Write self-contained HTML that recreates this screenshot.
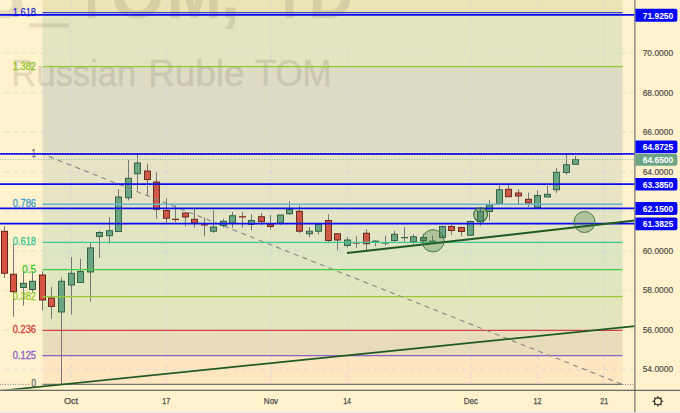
<!DOCTYPE html>
<html><head><meta charset="utf-8"><title>USDRUB_TOM, 1D</title>
<style>html,body{margin:0;padding:0;background:#fff2cc;}body{width:680px;height:413px;overflow:hidden;font-family:"Liberation Sans",sans-serif;}svg{display:block;}text{font-family:"Liberation Sans",sans-serif;}</style>
</head><body>
<svg width="680" height="413" viewBox="0 0 680 413">
<rect x="0" y="0" width="680" height="413" fill="#fff2cc"/>
<defs><clipPath id="pane"><rect x="0" y="0" width="634.4" height="389.5"/></clipPath></defs>
<g clip-path="url(#pane)">
<rect x="42.5" y="-5.00" width="580.0" height="17.50" fill="#ebe5b6"/>
<rect x="42.5" y="12.50" width="580.0" height="54.10" fill="#e2e5bf"/>
<rect x="42.5" y="66.60" width="580.0" height="87.60" fill="#dfdcc6"/>
<rect x="42.5" y="154.20" width="580.0" height="50.00" fill="#e8e3c4"/>
<rect x="42.5" y="204.20" width="580.0" height="38.25" fill="#e2e4c3"/>
<rect x="42.5" y="242.45" width="580.0" height="27.05" fill="#dee5c3"/>
<rect x="42.5" y="269.50" width="580.0" height="27.10" fill="#dfe6c0"/>
<rect x="42.5" y="296.60" width="580.0" height="33.70" fill="#e3e6bd"/>
<rect x="42.5" y="330.30" width="580.0" height="25.30" fill="#e8dcbb"/>
<rect x="42.5" y="355.60" width="580.0" height="28.80" fill="#fde6c0"/>
<line x1="0" x2="634.9" y1="53.20" y2="53.20" stroke="#c9d3e6" stroke-opacity="0.62" stroke-width="0.95" stroke-dasharray="4.6 4.2" stroke-dashoffset="-4.6"/>
<line x1="0" x2="634.9" y1="92.73" y2="92.73" stroke="#c9d3e6" stroke-opacity="0.62" stroke-width="0.95" stroke-dasharray="4.6 4.2" stroke-dashoffset="-4.6"/>
<line x1="0" x2="634.9" y1="132.26" y2="132.26" stroke="#c9d3e6" stroke-opacity="0.62" stroke-width="0.95" stroke-dasharray="4.6 4.2" stroke-dashoffset="-4.6"/>
<line x1="0" x2="634.9" y1="171.80" y2="171.80" stroke="#c9d3e6" stroke-opacity="0.62" stroke-width="0.95" stroke-dasharray="4.6 4.2" stroke-dashoffset="-4.6"/>
<line x1="0" x2="634.9" y1="211.33" y2="211.33" stroke="#c9d3e6" stroke-opacity="0.62" stroke-width="0.95" stroke-dasharray="4.6 4.2" stroke-dashoffset="-4.6"/>
<line x1="0" x2="634.9" y1="250.86" y2="250.86" stroke="#c9d3e6" stroke-opacity="0.62" stroke-width="0.95" stroke-dasharray="4.6 4.2" stroke-dashoffset="-4.6"/>
<line x1="0" x2="634.9" y1="290.39" y2="290.39" stroke="#c9d3e6" stroke-opacity="0.62" stroke-width="0.95" stroke-dasharray="4.6 4.2" stroke-dashoffset="-4.6"/>
<line x1="0" x2="634.9" y1="329.92" y2="329.92" stroke="#c9d3e6" stroke-opacity="0.62" stroke-width="0.95" stroke-dasharray="4.6 4.2" stroke-dashoffset="-4.6"/>
<line x1="0" x2="634.9" y1="369.46" y2="369.46" stroke="#c9d3e6" stroke-opacity="0.62" stroke-width="0.95" stroke-dasharray="4.6 4.2" stroke-dashoffset="-4.6"/>
<line x1="71.24" x2="71.24" y1="0" y2="390.0" stroke="#c9d3e6" stroke-opacity="0.62" stroke-width="0.95" stroke-dasharray="4.6 4.2" stroke-dashoffset="-3"/>
<line x1="166.44" x2="166.44" y1="0" y2="390.0" stroke="#c9d3e6" stroke-opacity="0.62" stroke-width="0.95" stroke-dasharray="4.6 4.2" stroke-dashoffset="-3"/>
<line x1="271.16" x2="271.16" y1="0" y2="390.0" stroke="#c9d3e6" stroke-opacity="0.62" stroke-width="0.95" stroke-dasharray="4.6 4.2" stroke-dashoffset="-3"/>
<line x1="347.32" x2="347.32" y1="0" y2="390.0" stroke="#c9d3e6" stroke-opacity="0.62" stroke-width="0.95" stroke-dasharray="4.6 4.2" stroke-dashoffset="-3"/>
<line x1="471.08" x2="471.08" y1="0" y2="390.0" stroke="#c9d3e6" stroke-opacity="0.62" stroke-width="0.95" stroke-dasharray="4.6 4.2" stroke-dashoffset="-3"/>
<line x1="537.72" x2="537.72" y1="0" y2="390.0" stroke="#c9d3e6" stroke-opacity="0.62" stroke-width="0.95" stroke-dasharray="4.6 4.2" stroke-dashoffset="-3"/>
<line x1="603.70" x2="603.70" y1="0" y2="390.0" stroke="#c9d3e6" stroke-opacity="0.62" stroke-width="0.95" stroke-dasharray="4.6 4.2" stroke-dashoffset="-3"/>
<g opacity="0.15" fill="#5f5a50" font-size="70" font-weight="bold">
<rect x="29.3" y="23.3" width="39.7" height="4"/>
<text x="-23.5" y="18.0" textLength="49.0" lengthAdjust="spacingAndGlyphs">B</text>
<rect x="87.9" y="-5" width="7.4" height="23.2"/>
<text x="110.6" y="18.0" textLength="54.0" lengthAdjust="spacingAndGlyphs">O</text>
<text x="166.5" y="18.0" textLength="55.5" lengthAdjust="spacingAndGlyphs">M</text>
<text x="220.4" y="18.0" textLength="19.6" lengthAdjust="spacingAndGlyphs">,</text>
<rect x="285.3" y="-5" width="8.2" height="23"/>
<text x="308.4" y="18.0" textLength="45.2" lengthAdjust="spacingAndGlyphs">D</text>
</g>
<g opacity="0.165" fill="#5f5a50" stroke="#5f5a50" stroke-width="0.45" stroke-linejoin="round" font-size="36">
<text x="11.3" y="85.7" textLength="125.0" lengthAdjust="spacingAndGlyphs">Russian</text>
<text x="148.2" y="85.7" textLength="96.4" lengthAdjust="spacingAndGlyphs">Ruble</text>
<text x="254.9" y="85.7" textLength="76.5" lengthAdjust="spacingAndGlyphs">TOM</text>
</g>
<line x1="4.50" x2="4.50" y1="226.25" y2="278.00" stroke="#777779" stroke-width="1"/>
<rect x="1.50" y="231.25" width="6" height="42.00" fill="#d75442" stroke="#5b1a13" stroke-width="0.9"/>
<line x1="13.50" x2="13.50" y1="243.75" y2="316.75" stroke="#777779" stroke-width="1"/>
<rect x="10.50" y="274.25" width="6" height="17.50" fill="#d75442" stroke="#5b1a13" stroke-width="0.9"/>
<line x1="23.50" x2="23.50" y1="271.25" y2="305.50" stroke="#777779" stroke-width="1"/>
<rect x="20.50" y="283.25" width="6" height="4.25" fill="#6ba583" stroke="#225437" stroke-width="0.9"/>
<line x1="32.50" x2="32.50" y1="271.25" y2="292.70" stroke="#777779" stroke-width="1"/>
<rect x="29.50" y="281.25" width="6" height="8.25" fill="#6ba583" stroke="#225437" stroke-width="0.9"/>
<line x1="42.50" x2="42.50" y1="271.25" y2="310.50" stroke="#777779" stroke-width="1"/>
<rect x="39.50" y="275.00" width="6" height="25.00" fill="#d75442" stroke="#5b1a13" stroke-width="0.9"/>
<line x1="51.50" x2="51.50" y1="287.00" y2="318.75" stroke="#777779" stroke-width="1"/>
<rect x="48.50" y="298.00" width="6" height="8.50" fill="#d05846" stroke="#5f2018" stroke-width="0.9"/>
<line x1="61.50" x2="61.50" y1="277.50" y2="384.50" stroke="#777779" stroke-width="1"/>
<rect x="58.50" y="281.25" width="6" height="30.75" fill="#6ca584" stroke="#2a5a3d" stroke-width="0.9"/>
<line x1="71.50" x2="71.50" y1="257.00" y2="314.50" stroke="#777779" stroke-width="1"/>
<rect x="68.50" y="273.25" width="6" height="11.75" fill="#6ca584" stroke="#2a5a3d" stroke-width="0.9"/>
<line x1="80.50" x2="80.50" y1="258.75" y2="282.50" stroke="#777779" stroke-width="1"/>
<rect x="77.50" y="271.50" width="6" height="11.00" fill="#6ca584" stroke="#2a5a3d" stroke-width="0.9"/>
<line x1="90.50" x2="90.50" y1="242.50" y2="301.70" stroke="#777779" stroke-width="1"/>
<rect x="87.50" y="247.90" width="6" height="24.10" fill="#6ca584" stroke="#2a5a3d" stroke-width="0.9"/>
<line x1="99.50" x2="99.50" y1="231.00" y2="258.00" stroke="#777779" stroke-width="1"/>
<rect x="96.50" y="232.50" width="6" height="4.00" fill="#6ca584" stroke="#2a5a3d" stroke-width="0.9"/>
<line x1="109.50" x2="109.50" y1="217.00" y2="243.75" stroke="#777779" stroke-width="1"/>
<rect x="106.50" y="230.75" width="6" height="5.00" fill="#6ca584" stroke="#2a5a3d" stroke-width="0.9"/>
<line x1="118.50" x2="118.50" y1="189.25" y2="231.50" stroke="#777779" stroke-width="1"/>
<rect x="115.50" y="197.00" width="6" height="34.50" fill="#6ca584" stroke="#2a5a3d" stroke-width="0.9"/>
<line x1="128.50" x2="128.50" y1="159.80" y2="200.50" stroke="#777779" stroke-width="1"/>
<rect x="125.50" y="178.30" width="6" height="19.50" fill="#6ca584" stroke="#2a5a3d" stroke-width="0.9"/>
<line x1="137.50" x2="137.50" y1="154.25" y2="190.50" stroke="#777779" stroke-width="1"/>
<rect x="134.50" y="163.00" width="6" height="10.75" fill="#6ca584" stroke="#2a5a3d" stroke-width="0.9"/>
<line x1="147.50" x2="147.50" y1="163.75" y2="196.00" stroke="#777779" stroke-width="1"/>
<rect x="144.50" y="171.00" width="6" height="8.50" fill="#d05846" stroke="#5f2018" stroke-width="0.9"/>
<line x1="156.50" x2="156.50" y1="172.25" y2="218.75" stroke="#777779" stroke-width="1"/>
<rect x="153.50" y="182.00" width="6" height="27.25" fill="#d05846" stroke="#5f2018" stroke-width="0.9"/>
<line x1="166.50" x2="166.50" y1="198.25" y2="222.50" stroke="#777779" stroke-width="1"/>
<rect x="163.50" y="210.50" width="6" height="7.75" fill="#d05846" stroke="#5f2018" stroke-width="0.9"/>
<line x1="175.50" x2="175.50" y1="205.50" y2="222.50" stroke="#777779" stroke-width="1"/>
<rect x="172.00" y="218.71" width="7" height="1.35" fill="#8a3228"/>
<line x1="185.50" x2="185.50" y1="212.30" y2="226.25" stroke="#777779" stroke-width="1"/>
<rect x="182.50" y="213.00" width="6" height="4.00" fill="#d05846" stroke="#5f2018" stroke-width="0.9"/>
<line x1="194.50" x2="194.50" y1="208.75" y2="227.50" stroke="#777779" stroke-width="1"/>
<rect x="191.50" y="219.25" width="6" height="3.75" fill="#d05846" stroke="#5f2018" stroke-width="0.9"/>
<line x1="204.50" x2="204.50" y1="217.50" y2="236.25" stroke="#777779" stroke-width="1"/>
<rect x="201.00" y="224.21" width="7" height="1.35" fill="#8a3228"/>
<line x1="213.50" x2="213.50" y1="210.00" y2="233.00" stroke="#777779" stroke-width="1"/>
<rect x="210.50" y="227.00" width="6" height="4.25" fill="#6ca584" stroke="#2a5a3d" stroke-width="0.9"/>
<line x1="223.50" x2="223.50" y1="218.75" y2="227.50" stroke="#777779" stroke-width="1"/>
<rect x="220.50" y="221.25" width="6" height="4.25" fill="#6ca584" stroke="#2a5a3d" stroke-width="0.9"/>
<line x1="232.50" x2="232.50" y1="212.00" y2="228.00" stroke="#777779" stroke-width="1"/>
<rect x="229.50" y="215.75" width="6" height="7.25" fill="#6ca584" stroke="#2a5a3d" stroke-width="0.9"/>
<line x1="242.50" x2="242.50" y1="212.00" y2="227.50" stroke="#777779" stroke-width="1"/>
<rect x="239.00" y="216.08" width="7" height="1.35" fill="#8a3228"/>
<line x1="251.50" x2="251.50" y1="214.25" y2="230.50" stroke="#777779" stroke-width="1"/>
<rect x="248.50" y="220.50" width="6" height="4.00" fill="#6ca584" stroke="#2a5a3d" stroke-width="0.9"/>
<line x1="261.50" x2="261.50" y1="213.00" y2="225.00" stroke="#777779" stroke-width="1"/>
<rect x="258.50" y="216.75" width="6" height="5.00" fill="#d05846" stroke="#5f2018" stroke-width="0.9"/>
<line x1="270.50" x2="270.50" y1="215.00" y2="229.50" stroke="#777779" stroke-width="1"/>
<rect x="267.50" y="224.25" width="6" height="2.25" fill="#d05846" stroke="#5f2018" stroke-width="0.9"/>
<line x1="280.50" x2="280.50" y1="215.00" y2="225.00" stroke="#777779" stroke-width="1"/>
<rect x="277.50" y="215.00" width="6" height="8.00" fill="#6ca584" stroke="#2a5a3d" stroke-width="0.9"/>
<line x1="289.50" x2="289.50" y1="201.25" y2="215.00" stroke="#777779" stroke-width="1"/>
<rect x="286.50" y="209.25" width="6" height="4.50" fill="#6ca584" stroke="#2a5a3d" stroke-width="0.9"/>
<line x1="299.50" x2="299.50" y1="205.50" y2="233.00" stroke="#777779" stroke-width="1"/>
<rect x="296.50" y="211.25" width="6" height="20.00" fill="#d05846" stroke="#5f2018" stroke-width="0.9"/>
<line x1="309.50" x2="309.50" y1="227.00" y2="237.00" stroke="#777779" stroke-width="1"/>
<rect x="306.50" y="231.25" width="6" height="2.50" fill="#6ca584" stroke="#2a5a3d" stroke-width="0.9"/>
<line x1="318.50" x2="318.50" y1="223.25" y2="234.50" stroke="#777779" stroke-width="1"/>
<rect x="315.50" y="224.50" width="6" height="6.75" fill="#6ca584" stroke="#2a5a3d" stroke-width="0.9"/>
<line x1="328.50" x2="328.50" y1="214.25" y2="243.25" stroke="#777779" stroke-width="1"/>
<rect x="325.50" y="220.50" width="6" height="20.00" fill="#d05846" stroke="#5f2018" stroke-width="0.9"/>
<line x1="337.50" x2="337.50" y1="233.00" y2="250.50" stroke="#777779" stroke-width="1"/>
<rect x="334.50" y="233.75" width="6" height="6.25" fill="#d05846" stroke="#5f2018" stroke-width="0.9"/>
<line x1="347.50" x2="347.50" y1="237.00" y2="247.50" stroke="#777779" stroke-width="1"/>
<rect x="344.50" y="240.00" width="6" height="5.50" fill="#6ca584" stroke="#2a5a3d" stroke-width="0.9"/>
<line x1="356.50" x2="356.50" y1="236.20" y2="248.00" stroke="#777779" stroke-width="1"/>
<rect x="353.00" y="242.23" width="7" height="1.35" fill="#8a3228"/>
<line x1="366.50" x2="366.50" y1="229.25" y2="250.00" stroke="#777779" stroke-width="1"/>
<rect x="363.50" y="233.25" width="6" height="10.50" fill="#d05846" stroke="#5f2018" stroke-width="0.9"/>
<line x1="375.50" x2="375.50" y1="240.00" y2="246.25" stroke="#777779" stroke-width="1"/>
<rect x="372.00" y="240.58" width="7" height="1.35" fill="#3c6e52"/>
<line x1="385.50" x2="385.50" y1="235.75" y2="245.50" stroke="#777779" stroke-width="1"/>
<rect x="382.00" y="242.33" width="7" height="1.35" fill="#3c6e52"/>
<line x1="394.50" x2="394.50" y1="230.75" y2="242.00" stroke="#777779" stroke-width="1"/>
<rect x="391.50" y="234.25" width="6" height="6.25" fill="#6ca584" stroke="#2a5a3d" stroke-width="0.9"/>
<line x1="404.50" x2="404.50" y1="227.00" y2="241.75" stroke="#777779" stroke-width="1"/>
<rect x="401.00" y="236.96" width="7" height="1.35" fill="#3c6e52"/>
<line x1="413.50" x2="413.50" y1="234.25" y2="243.75" stroke="#777779" stroke-width="1"/>
<rect x="410.50" y="236.75" width="6" height="5.00" fill="#6ca584" stroke="#2a5a3d" stroke-width="0.9"/>
<line x1="423.50" x2="423.50" y1="233.75" y2="242.50" stroke="#777779" stroke-width="1"/>
<rect x="420.50" y="237.50" width="6" height="3.25" fill="#6ca584" stroke="#2a5a3d" stroke-width="0.9"/>
<line x1="432.50" x2="432.50" y1="235.75" y2="243.75" stroke="#777779" stroke-width="1"/>
<rect x="429.00" y="240.58" width="7" height="1.35" fill="#3c6e52"/>
<line x1="442.50" x2="442.50" y1="225.75" y2="238.25" stroke="#777779" stroke-width="1"/>
<rect x="439.50" y="226.50" width="6" height="11.00" fill="#6ca584" stroke="#2a5a3d" stroke-width="0.9"/>
<line x1="451.50" x2="451.50" y1="224.50" y2="235.00" stroke="#777779" stroke-width="1"/>
<rect x="448.50" y="226.50" width="6" height="4.00" fill="#d05846" stroke="#5f2018" stroke-width="0.9"/>
<line x1="461.50" x2="461.50" y1="226.75" y2="236.25" stroke="#777779" stroke-width="1"/>
<rect x="458.50" y="227.50" width="6" height="4.00" fill="#d05846" stroke="#5f2018" stroke-width="0.9"/>
<line x1="470.50" x2="470.50" y1="220.50" y2="235.75" stroke="#777779" stroke-width="1"/>
<rect x="467.50" y="221.50" width="6" height="13.75" fill="#6ca584" stroke="#2a5a3d" stroke-width="0.9"/>
<line x1="480.50" x2="480.50" y1="208.75" y2="225.75" stroke="#777779" stroke-width="1"/>
<rect x="477.50" y="211.25" width="6" height="10.50" fill="#6ca584" stroke="#2a5a3d" stroke-width="0.9"/>
<line x1="489.50" x2="489.50" y1="200.00" y2="220.75" stroke="#777779" stroke-width="1"/>
<rect x="486.50" y="205.00" width="6" height="6.50" fill="#6ca584" stroke="#2a5a3d" stroke-width="0.9"/>
<line x1="499.50" x2="499.50" y1="185.50" y2="203.25" stroke="#777779" stroke-width="1"/>
<rect x="496.50" y="189.75" width="6" height="13.50" fill="#6ca584" stroke="#2a5a3d" stroke-width="0.9"/>
<line x1="508.50" x2="508.50" y1="184.25" y2="196.75" stroke="#777779" stroke-width="1"/>
<rect x="505.50" y="189.25" width="6" height="7.50" fill="#d05846" stroke="#5f2018" stroke-width="0.9"/>
<line x1="518.50" x2="518.50" y1="189.25" y2="205.00" stroke="#777779" stroke-width="1"/>
<rect x="515.50" y="193.00" width="6" height="3.00" fill="#d05846" stroke="#5f2018" stroke-width="0.9"/>
<line x1="528.50" x2="528.50" y1="192.50" y2="207.00" stroke="#777779" stroke-width="1"/>
<rect x="525.50" y="199.25" width="6" height="3.75" fill="#d05846" stroke="#5f2018" stroke-width="0.9"/>
<line x1="537.50" x2="537.50" y1="190.50" y2="207.50" stroke="#777779" stroke-width="1"/>
<rect x="534.50" y="195.50" width="6" height="12.00" fill="#6ca584" stroke="#2a5a3d" stroke-width="0.9"/>
<line x1="547.50" x2="547.50" y1="184.25" y2="197.00" stroke="#777779" stroke-width="1"/>
<rect x="544.50" y="194.25" width="6" height="2.75" fill="#6ca584" stroke="#2a5a3d" stroke-width="0.9"/>
<line x1="556.50" x2="556.50" y1="168.00" y2="193.00" stroke="#777779" stroke-width="1"/>
<rect x="553.50" y="172.25" width="6" height="17.50" fill="#6ca584" stroke="#2a5a3d" stroke-width="0.9"/>
<line x1="566.50" x2="566.50" y1="154.25" y2="174.75" stroke="#777779" stroke-width="1"/>
<rect x="563.50" y="164.75" width="6" height="7.75" fill="#6ca584" stroke="#2a5a3d" stroke-width="0.9"/>
<line x1="575.50" x2="575.50" y1="156.00" y2="164.30" stroke="#777779" stroke-width="1"/>
<rect x="572.50" y="159.60" width="6" height="4.70" fill="#6ca584" stroke="#2a5a3d" stroke-width="0.9"/>
<line x1="42.5" x2="622.5" y1="12.50" y2="12.50" stroke="#3a3ad0" stroke-width="1.25"/>
<line x1="42.5" x2="622.5" y1="66.60" y2="66.60" stroke="#92c832" stroke-width="1.25"/>
<line x1="42.5" x2="622.5" y1="154.20" y2="154.20" stroke="#808080" stroke-width="1.25"/>
<line x1="42.5" x2="622.5" y1="204.20" y2="204.20" stroke="#68b3d2" stroke-width="1.55"/>
<line x1="42.5" x2="622.5" y1="242.45" y2="242.45" stroke="#42c898" stroke-width="1.25"/>
<line x1="42.5" x2="622.5" y1="269.50" y2="269.50" stroke="#40cc40" stroke-width="1.25"/>
<line x1="42.5" x2="622.5" y1="296.60" y2="296.60" stroke="#96ca34" stroke-width="1.25"/>
<line x1="42.5" x2="622.5" y1="330.30" y2="330.30" stroke="#d24440" stroke-width="1.25"/>
<line x1="42.5" x2="622.5" y1="355.60" y2="355.60" stroke="#8a62cc" stroke-width="1.25"/>
<line x1="42.5" x2="622.5" y1="384.40" y2="384.40" stroke="#777777" stroke-width="1.25"/>
<line x1="0" x2="30.6" y1="384.40" y2="384.40" stroke="#777" stroke-width="1" stroke-dasharray="0.9 1.64"/>
<line x1="622.5" x2="634.9" y1="384.40" y2="384.40" stroke="#777" stroke-width="1" stroke-dasharray="0.9 1.64"/>
<line x1="42.5" y1="154.00" x2="622.5" y2="384.50" stroke="#8a8a86" stroke-width="1.15" stroke-dasharray="5 4.4" stroke-dashoffset="2.3"/>
<text x="12.70" y="15.50" font-size="10" textLength="23.3" lengthAdjust="spacingAndGlyphs" fill="#3434cc" stroke="#3434cc" stroke-width="0.3">1.618</text>
<text x="12.70" y="69.60" font-size="10" textLength="23.3" lengthAdjust="spacingAndGlyphs" fill="#93c62e" stroke="#93c62e" stroke-width="0.3">1.382</text>
<text x="12.70" y="207.20" font-size="10" textLength="23.3" lengthAdjust="spacingAndGlyphs" fill="#3f9ccf" stroke="#3f9ccf" stroke-width="0.3">0.786</text>
<text x="12.70" y="245.45" font-size="10" textLength="23.3" lengthAdjust="spacingAndGlyphs" fill="#36c79a" stroke="#36c79a" stroke-width="0.3">0.618</text>
<text x="22.30" y="272.50" font-size="10" textLength="13.7" lengthAdjust="spacingAndGlyphs" fill="#3cc832" stroke="#3cc832" stroke-width="0.3">0.5</text>
<text x="12.70" y="299.60" font-size="10" textLength="23.3" lengthAdjust="spacingAndGlyphs" fill="#97c930" stroke="#97c930" stroke-width="0.3">0.382</text>
<text x="12.70" y="333.30" font-size="10" textLength="23.3" lengthAdjust="spacingAndGlyphs" fill="#cf3c3a" stroke="#cf3c3a" stroke-width="0.3">0.236</text>
<text x="12.70" y="358.60" font-size="10" textLength="23.3" lengthAdjust="spacingAndGlyphs" fill="#8a60cc" stroke="#8a60cc" stroke-width="0.3">0.125</text>
<text x="31.50" y="387.40" font-size="10" textLength="4.5" lengthAdjust="spacingAndGlyphs" fill="#666" stroke="#666" stroke-width="0.3">0</text>
<text x="31.50" y="157.20" font-size="10" textLength="4.5" lengthAdjust="spacingAndGlyphs" fill="#777" stroke="#777" stroke-width="0.3">1</text>
<line x1="0" x2="634.9" y1="14.85" y2="14.85" stroke="#0a0aee" stroke-width="1.75"/>
<line x1="0" x2="634.9" y1="153.85" y2="153.85" stroke="#0a0aee" stroke-width="1.75"/>
<line x1="0" x2="634.9" y1="184.00" y2="184.00" stroke="#0a0aee" stroke-width="1.75"/>
<line x1="0" x2="634.9" y1="208.35" y2="208.35" stroke="#0a0aee" stroke-width="1.75"/>
<line x1="0" x2="634.9" y1="223.55" y2="223.55" stroke="#0a0aee" stroke-width="1.75"/>
<line x1="0" x2="634.9" y1="152.7" y2="152.7" stroke="#fff2cc" stroke-width="0.9" stroke-dasharray="1.2 1.35"/>
<line x1="0" x2="634.9" y1="159.45" y2="159.45" stroke="#86b59d" stroke-width="1" stroke-dasharray="0.95 1.59"/>
<line x1="0" y1="390.79" x2="634.9" y2="326.15" stroke="#1f5a22" stroke-width="1.7"/>
<line x1="347" y1="253.1" x2="634.9" y2="220.54" stroke="#1f5a22" stroke-width="2"/>
<circle cx="433" cy="240.8" r="11.1" fill="rgba(50,110,55,0.28)" stroke="#457a48" stroke-width="1"/>
<circle cx="480.6" cy="214.6" r="6.9" fill="rgba(50,110,55,0.28)" stroke="#37703c" stroke-width="1.15"/>
<circle cx="584.5" cy="222" r="10.5" fill="rgba(50,110,55,0.28)" stroke="#457a48" stroke-width="1"/>
</g>
<rect x="634.4" y="0" width="1" height="413" fill="#555a5f"/>
<rect x="0" y="389.75" width="680" height="1.15" fill="#5a5d60"/>
<rect x="0" y="411.8" width="680" height="1.2" fill="#e4e6e7"/>
<text x="642.7" y="56.10" font-size="9.8" textLength="30.4" lengthAdjust="spacingAndGlyphs" fill="#4c4c4c" stroke="#4c4c4c" stroke-width="0.2">70.0000</text>
<text x="642.7" y="95.63" font-size="9.8" textLength="30.4" lengthAdjust="spacingAndGlyphs" fill="#4c4c4c" stroke="#4c4c4c" stroke-width="0.2">68.0000</text>
<text x="642.7" y="135.16" font-size="9.8" textLength="30.4" lengthAdjust="spacingAndGlyphs" fill="#4c4c4c" stroke="#4c4c4c" stroke-width="0.2">66.0000</text>
<text x="642.7" y="174.70" font-size="9.8" textLength="30.4" lengthAdjust="spacingAndGlyphs" fill="#4c4c4c" stroke="#4c4c4c" stroke-width="0.2">64.0000</text>
<text x="642.7" y="253.76" font-size="9.8" textLength="30.4" lengthAdjust="spacingAndGlyphs" fill="#4c4c4c" stroke="#4c4c4c" stroke-width="0.2">60.0000</text>
<text x="642.7" y="293.29" font-size="9.8" textLength="30.4" lengthAdjust="spacingAndGlyphs" fill="#4c4c4c" stroke="#4c4c4c" stroke-width="0.2">58.0000</text>
<text x="642.7" y="332.82" font-size="9.8" textLength="30.4" lengthAdjust="spacingAndGlyphs" fill="#4c4c4c" stroke="#4c4c4c" stroke-width="0.2">56.0000</text>
<text x="642.7" y="372.36" font-size="9.8" textLength="30.4" lengthAdjust="spacingAndGlyphs" fill="#4c4c4c" stroke="#4c4c4c" stroke-width="0.2">54.0000</text>
<path d="M635.4 8.80 H675.4 a2 2 0 0 1 2 2 V19.80 a2 2 0 0 1 -2 2 H635.4 Z" fill="#0505f7"/>
<text x="642.7" y="18.80" font-size="9.9" font-weight="bold" textLength="30.6" lengthAdjust="spacingAndGlyphs" fill="#fff">71.9250</text>
<path d="M635.4 140.60 H675.4 a2 2 0 0 1 2 2 V151.30 a2 2 0 0 1 -2 2 H635.4 Z" fill="#0505f7"/>
<text x="642.7" y="150.45" font-size="9.9" font-weight="bold" textLength="30.6" lengthAdjust="spacingAndGlyphs" fill="#fff">64.8725</text>
<path d="M635.4 177.90 H675.4 a2 2 0 0 1 2 2 V188.40 a2 2 0 0 1 -2 2 H635.4 Z" fill="#0505f7"/>
<text x="642.7" y="187.65" font-size="9.9" font-weight="bold" textLength="30.6" lengthAdjust="spacingAndGlyphs" fill="#fff">63.3850</text>
<path d="M635.4 202.10 H675.4 a2 2 0 0 1 2 2 V212.90 a2 2 0 0 1 -2 2 H635.4 Z" fill="#0505f7"/>
<text x="642.7" y="212.00" font-size="9.9" font-weight="bold" textLength="30.6" lengthAdjust="spacingAndGlyphs" fill="#fff">62.1500</text>
<path d="M635.4 217.60 H675.4 a2 2 0 0 1 2 2 V228.20 a2 2 0 0 1 -2 2 H635.4 Z" fill="#0505f7"/>
<text x="642.7" y="227.40" font-size="9.9" font-weight="bold" textLength="30.6" lengthAdjust="spacingAndGlyphs" fill="#fff">61.3825</text>
<path d="M635.4 154.00 H675.4 a2 2 0 0 1 2 2 V163.70 a2 2 0 0 1 -2 2 H635.4 Z" fill="#6ba583"/>
<text x="642.7" y="163.35" font-size="9.9" font-weight="bold" textLength="30.6" lengthAdjust="spacingAndGlyphs" fill="#fff">64.6500</text>
<text x="63.94" y="403.9" font-size="9.4" textLength="14.2" lengthAdjust="spacingAndGlyphs" fill="#4c4c4c" stroke="#4c4c4c" stroke-width="0.25">Oct</text>
<text x="162.29" y="403.9" font-size="9.4" textLength="7.9" lengthAdjust="spacingAndGlyphs" fill="#4c4c4c" stroke="#4c4c4c" stroke-width="0.25">17</text>
<text x="263.86" y="403.9" font-size="9.4" textLength="14.2" lengthAdjust="spacingAndGlyphs" fill="#4c4c4c" stroke="#4c4c4c" stroke-width="0.25">Nov</text>
<text x="343.17" y="403.9" font-size="9.4" textLength="7.9" lengthAdjust="spacingAndGlyphs" fill="#4c4c4c" stroke="#4c4c4c" stroke-width="0.25">14</text>
<text x="463.78" y="403.9" font-size="9.4" textLength="14.2" lengthAdjust="spacingAndGlyphs" fill="#4c4c4c" stroke="#4c4c4c" stroke-width="0.25">Dec</text>
<text x="533.57" y="403.9" font-size="9.4" textLength="7.9" lengthAdjust="spacingAndGlyphs" fill="#4c4c4c" stroke="#4c4c4c" stroke-width="0.25">12</text>
<text x="600.21" y="403.9" font-size="9.4" textLength="7.9" lengthAdjust="spacingAndGlyphs" fill="#4c4c4c" stroke="#4c4c4c" stroke-width="0.25">21</text>
<g transform="translate(657.9 401.3)">
<circle r="3.45" fill="none" stroke="#2e2e2e" stroke-width="1.15"/>
<polygon points="3.70,0.95 3.70,-0.95 5.90,0.00" fill="#2e2e2e"/>
<polygon points="1.94,3.29 3.29,1.94 4.17,4.17" fill="#2e2e2e"/>
<polygon points="-0.95,3.70 0.95,3.70 0.00,5.90" fill="#2e2e2e"/>
<polygon points="-3.29,1.94 -1.94,3.29 -4.17,4.17" fill="#2e2e2e"/>
<polygon points="-3.70,-0.95 -3.70,0.95 -5.90,0.00" fill="#2e2e2e"/>
<polygon points="-1.94,-3.29 -3.29,-1.94 -4.17,-4.17" fill="#2e2e2e"/>
<polygon points="0.95,-3.70 -0.95,-3.70 -0.00,-5.90" fill="#2e2e2e"/>
<polygon points="3.29,-1.94 1.94,-3.29 4.17,-4.17" fill="#2e2e2e"/>
</g>
</svg></body></html>
